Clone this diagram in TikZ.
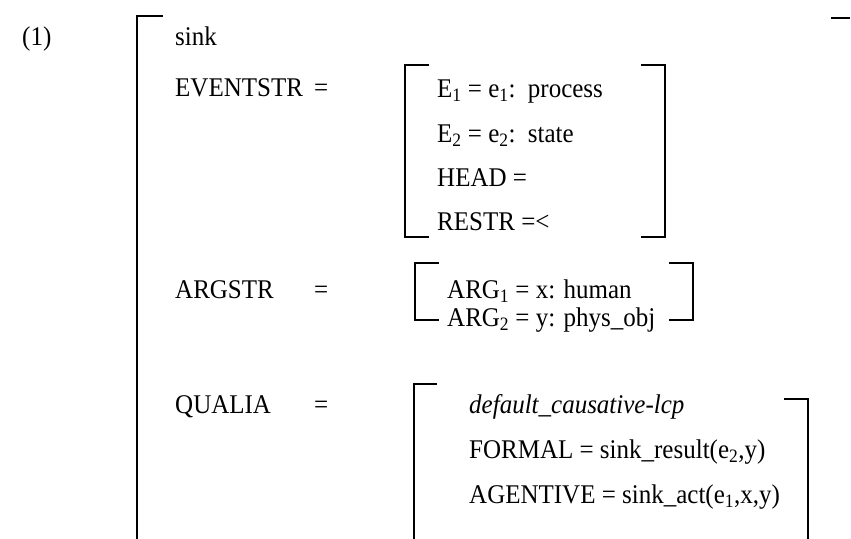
\documentclass[tikz,border=0pt]{standalone}
\usepackage{fontspec}
\usepackage{graphicx}
\setmainfont{Liberation Serif}
\newcommand{\tallbox}[1]{\scalebox{1}[1.08]{#1}}
\begin{document}
\begin{tikzpicture}[x=1pt,y=-1pt,
  txt/.style={anchor=base west,inner sep=0pt,font=\fontsize{25}{30}\selectfont},
  brk/.style={line width=2pt,line cap=rect},
  bigbrk/.style={line width=2.6pt,line cap=rect}]
\useasboundingbox (0,0) rectangle (851,538);
% labels
\node[txt] (num) at (22,45) {\tallbox{(1)}};
\node[txt] (sink) at (175,45) {\tallbox{sink}};
\node[txt] (ev) at (175,96) {\tallbox{EVENTSTR}};
\node[txt] (eveq) at (314,96) {\tallbox{=}};
\node[txt] (e1) at (437,97) {\tallbox{E\textsubscript{1} = e\textsubscript{1}:\hspace{4pt} process}};
\node[txt] (e2) at (437,142) {\tallbox{E\textsubscript{2} = e\textsubscript{2}:\hspace{4pt} state}};
\node[txt] (head) at (437,186) {\tallbox{HEAD =}};
\node[txt] (restr) at (437,230) {\tallbox{RESTR =<}};
\node[txt] (arg) at (175,298) {\tallbox{ARGSTR}};
\node[txt] (argeq) at (314,298) {\tallbox{=}};
\node[txt] (a1) at (447,298) {\tallbox{ARG\textsubscript{1} = x: human}};
\node[txt] (a2) at (447,326) {\tallbox{ARG\textsubscript{2} = y: phys\_obj}};
\node[txt] (qu) at (175,413) {\tallbox{QUALIA}};
\node[txt] (queq) at (314,413) {\tallbox{=}};
\node[txt] (q0) at (469,413) {\tallbox{\itshape default\_causative-lcp}};
\node[txt] (q1) at (469,458) {\tallbox{FORMAL = sink\_result(e\textsubscript{2},y)}};
\node[txt] (q2) at (469,503) {\tallbox{AGENTIVE = sink\_act(e\textsubscript{1},x,y)}};
% brackets
\draw[bigbrk] (162,16) -- (137,16) -- (137,538);
\draw[bigbrk] (832,18) -- (849,18);
\draw[brk] (428,65) -- (405,65) -- (405,237) -- (428,237);
\draw[brk] (642,65) -- (665,65) -- (665,237) -- (642,237);
\draw[brk] (438,263) -- (415,263) -- (415,320) -- (438,320);
\draw[brk] (670,263) -- (693,263) -- (693,320) -- (670,320);
\draw[brk] (436,384) -- (414,384) -- (414,538);
\draw[brk] (785,399) -- (808,399) -- (808,538);
\end{tikzpicture}
\end{document}
